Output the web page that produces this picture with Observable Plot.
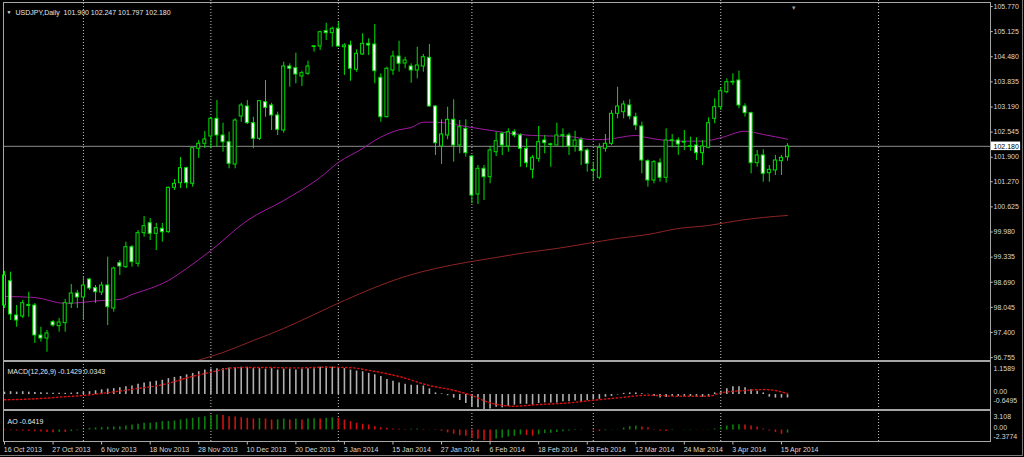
<!DOCTYPE html>
<html><head><meta charset="utf-8">
<script src="https://cdn.jsdelivr.net/npm/d3@7"></script>
<script src="https://cdn.jsdelivr.net/npm/@observablehq/plot@0.6"></script>
<style>
html,body{margin:0;padding:0;background:#000;}
#chart{position:relative;width:1024px;height:457px;background:#000;overflow:hidden;}
#chart svg{position:absolute;left:0;}
.box{position:absolute;border:1px solid #a6a6a6;box-sizing:border-box;pointer-events:none;}
</style></head><body><div id="chart"></div>
<script>
// ---------- data ----------
const symbol = "USDJPY";
const timeframe = "Daily";
const opens = [98.093,98.717,97.837,97.811,98.081,98.093,97.323,97.246,97.665,97.562,
97.639,98.145,98.402,98.299,98.761,98.538,98.427,98.607,98.016,99.179,
99.077,99.590,99.164,99.950,100.206,99.934,100.063,99.975,101.115,101.233,
101.619,101.218,102.117,102.245,102.432,102.887,102.458,102.286,101.713,102.946,
103.203,102.774,102.373,103.313,103.228,102.972,102.586,104.230,104.186,103.973,
104.042,104.730,104.743,105.136,105.084,105.197,104.725,104.769,104.145,104.538,
104.812,104.794,103.939,102.928,104.127,104.486,104.307,104.230,104.127,104.230,
104.453,103.203,102.176,102.458,102.861,102.201,102.630,101.919,100.943,101.603,
101.387,102.029,102.502,102.176,102.543,102.458,102.117,101.577,101.860,102.330,
102.214,102.201,102.445,102.458,102.176,102.348,102.073,101.547,101.372,102.117,
102.245,103.015,103.056,103.228,102.928,102.689,101.798,101.303,101.747,101.372,
102.317,102.330,102.273,102.163,102.201,102.004,102.142,102.887,103.185,103.570,
103.816,103.870,103.203,103.031,101.747,101.945,101.490,101.560,101.798,101.900];
const highs = [98.966,98.948,98.093,98.222,98.435,98.145,97.536,97.452,97.708,97.760,
98.248,98.633,98.479,98.820,98.787,98.607,98.692,99.334,99.077,99.249,
99.719,99.634,100.019,100.378,100.327,100.199,100.199,101.131,101.328,101.893,
101.644,102.142,102.330,102.561,102.928,103.357,102.774,102.543,102.887,103.287,
103.357,102.928,103.357,103.870,103.287,103.056,104.340,104.299,104.571,104.109,
104.366,104.769,105.136,105.341,105.239,105.367,104.812,104.879,104.658,105.069,
104.941,105.308,104.042,104.212,104.622,104.879,104.468,104.299,104.725,104.538,
104.794,103.228,102.861,103.185,103.375,102.843,102.861,101.945,101.688,101.688,
102.176,102.543,102.543,102.630,102.604,102.502,102.373,101.945,102.689,102.458,
102.260,102.774,102.630,102.517,102.568,102.399,102.117,101.773,102.245,102.484,
103.100,103.698,103.339,103.375,103.031,102.799,101.834,101.816,101.860,102.630,
102.484,102.399,102.586,102.414,102.399,102.330,102.912,103.400,103.683,103.914,
104.042,104.109,103.272,103.056,102.073,102.091,101.688,101.945,101.945,102.247];
const lows = [98.016,97.708,97.536,97.760,97.793,97.118,97.151,96.894,97.536,97.408,
97.408,98.016,98.016,97.708,98.479,98.145,98.350,97.580,97.921,98.864,
99.043,99.077,99.077,99.847,99.762,99.505,99.719,99.950,101.046,101.097,
101.090,101.131,101.868,102.124,102.117,102.158,102.029,101.603,101.603,102.799,
102.740,102.117,102.330,102.928,102.586,102.458,102.517,103.698,103.785,103.716,
104.000,104.597,104.640,104.897,104.725,104.725,104.000,103.852,104.083,104.512,
104.512,103.785,102.799,102.912,104.000,104.083,104.171,103.801,103.914,104.083,
103.185,101.945,101.713,102.348,101.773,101.988,101.901,100.705,100.687,100.789,
101.218,101.919,101.945,102.029,102.399,101.644,101.629,101.346,101.773,101.988,
101.644,102.201,102.142,101.945,102.029,101.688,101.516,101.285,101.321,102.029,
102.201,102.887,102.887,102.861,102.586,101.475,101.131,101.218,101.259,101.233,
102.142,101.945,102.073,102.055,101.816,101.688,102.117,102.758,103.100,103.529,
103.742,103.144,102.928,101.475,101.644,101.259,101.259,101.431,101.431,101.797];
const closes = [98.864,97.862,97.708,98.153,98.107,97.323,97.246,97.375,97.580,97.657,
98.153,98.402,98.299,98.607,98.530,98.435,98.607,98.050,99.043,99.095,
99.590,99.205,99.950,100.129,99.934,100.078,99.975,101.115,101.218,101.619,
101.233,102.132,102.245,102.355,102.887,102.458,102.286,101.731,102.843,103.228,
102.774,102.373,103.339,103.169,102.972,102.604,104.230,104.171,104.024,104.058,
104.230,104.748,105.110,105.084,105.197,104.743,104.769,104.171,104.556,104.812,
104.769,104.109,102.928,104.171,104.486,104.299,104.384,104.127,104.255,104.468,
103.203,102.260,102.484,102.861,102.201,102.671,102.004,100.917,101.603,101.387,
102.073,102.312,102.201,102.543,102.458,102.117,101.747,101.886,102.286,102.260,
102.235,102.458,102.466,102.176,102.330,102.055,101.731,101.572,102.142,102.245,
103.015,103.203,103.254,102.946,102.715,101.816,101.303,101.773,101.372,102.330,
102.337,102.227,102.294,102.183,102.004,102.176,102.774,103.185,103.595,103.827,
103.837,103.228,103.031,101.747,101.945,101.475,101.577,101.816,101.886,102.180];

// moving averages read at sample bars: [bar, value]
const maFast = [[0,98.325],[5,98.299],[10,98.145],[16,98.222],[19,98.248],[21,98.376],[24,98.530],[27,98.735],[30,99.043],[34,99.505],[40,100.276],[46,100.789],[52,101.380],[55,101.765],[59,102.124],[61,102.330],[65,102.604],[67,102.663],[69,102.799],[71,102.799],[76,102.689],[82,102.543],[87,102.458],[93,102.432],[97,102.348],[100,102.373],[101,102.399],[104,102.458],[106,102.399],[109,102.330],[112,102.312],[115,102.312],[118,102.399],[122,102.568],[125,102.484],[129,102.363]];
const maSlow = [[32,96.690],[36,96.887],[41,97.195],[46,97.503],[51,97.862],[56,98.222],[61,98.556],[66,98.838],[71,99.043],[76,99.197],[81,99.326],[86,99.454],[91,99.557],[96,99.685],[101,99.814],[106,99.916],[111,100.070],[116,100.147],[121,100.276],[125,100.353],[129,100.404]];

const priceTickLabels = ["105.770","105.125","104.480","103.835","103.190","102.545","101.900","101.270","100.625","99.980","99.335","98.690","98.045","97.400","96.755"];

const macdParams = [12,26,9];
const macdMain = [0.10,0.12,0.10,0.12,0.10,0.09,0.08,0.07,0.06,0.05,
0.05,0.06,0.08,0.10,0.12,0.16,0.20,0.23,0.25,0.29,
0.33,0.36,0.43,0.49,0.53,0.56,0.60,0.67,0.72,0.76,
0.83,0.89,0.96,1.03,1.07,1.09,1.09,1.12,1.12,1.15,
1.15,1.09,1.09,1.07,1.09,1.03,1.07,1.07,1.03,1.07,
1.09,1.09,1.15,1.1589,1.15,1.14,1.09,1.03,0.99,0.96,
0.89,0.83,0.76,0.63,0.56,0.49,0.43,0.39,0.39,0.36,
0.24,0.07,0.03,-0.05,-0.15,-0.25,-0.38,-0.53,-0.56,-0.6495,
-0.61,-0.53,-0.56,-0.50,-0.45,-0.41,-0.41,-0.45,-0.38,-0.35,
-0.35,-0.35,-0.30,-0.30,-0.27,-0.30,-0.26,-0.23,-0.20,-0.11,
-0.08,-0.02,0.05,0.07,0.07,0.03,0.01,-0.08,-0.15,-0.12,
-0.08,-0.08,-0.11,-0.08,-0.11,-0.11,-0.08,0.07,0.14,0.24,
0.33,0.33,0.29,0.21,0.14,0.07,-0.11,-0.15,-0.15,-0.1429];
const macdSignal = [[0,-0.22],[5,-0.18],[10,-0.09],[13,-0.04],[16,0.05],[21,0.22],[27,0.47],[30,0.70],[34,0.94],[38,1.13],[43,1.14],[48,1.12],[53,1.15],[57,1.13],[60,1.02],[65,0.76],[70,0.38],[74,0.18],[77,-0.04],[80,-0.35],[84,-0.49],[88,-0.42],[93,-0.35],[97,-0.24],[101,-0.14],[106,-0.03],[111,-0.07],[116,-0.07],[118,0.07],[122,0.17],[125,0.21],[127,0.17],[129,0.0343]];
const macdMax = 1.1589, macdMin = -0.6495;

const aoValues = [-0.10,-0.15,-0.20,-0.25,-0.30,-0.35,-0.40,-0.50,-0.55,-0.45,
-0.50,-0.30,-0.15,0.10,0.34,0.41,0.48,0.55,0.62,0.69,
0.82,1.03,1.17,1.37,1.40,1.51,1.72,1.75,1.86,2.06,
2.27,2.41,2.54,2.75,3.00,3.108,2.96,2.75,2.70,2.54,
2.41,2.27,2.35,2.27,2.06,2.10,2.27,2.06,2.27,2.06,
2.25,2.30,2.25,2.40,2.50,2.40,2.06,1.72,1.37,1.17,
1.03,0.69,0.48,0.34,0.20,0.15,0.10,0.15,0.20,0.10,
0.05,-0.10,-0.30,-0.60,-0.90,-1.20,-1.30,-1.70,-1.90,-2.20,
-2.3774,-1.85,-1.70,-1.45,-1.30,-1.05,-1.15,-1.30,-1.00,-0.75,
-0.70,-0.50,-0.35,-0.20,-0.10,0.05,0.00,-0.20,-0.30,-0.15,
-0.05,0.05,0.40,0.70,0.80,0.60,0.45,0.10,-0.20,-0.30,
-0.10,0.00,0.05,0.08,0.05,0.03,0.05,0.20,0.50,0.80,
1.05,1.10,1.00,0.80,0.60,0.20,-0.20,-0.50,-0.90,-0.6419];
const aoMax = 3.108, aoMin = -2.3774;

const monthStartBars = [13,34,55,77,97,118,144];
const dateLabels = ["16 Oct 2013","27 Oct 2013","6 Nov 2013","18 Nov 2013","28 Nov 2013","10 Dec 2013","20 Dec 2013","3 Jan 2014","15 Jan 2014","27 Jan 2014","6 Feb 2014","18 Feb 2014","28 Feb 2014","12 Mar 2014","24 Mar 2014","3 Apr 2014","15 Apr 2014"];
const dateLabelBars = [0,8,16,24,32,40,48,56,64,72,80,88,96,104,112,120,128];

// ---------- layout ----------
const FONT = "'Liberation Sans', Arial, sans-serif";
const xScale = {domain: [-0.165, 167.71], range: [3, 1022], axis: null};
const axisBar = 162.44;      // bar-index position of the price axis line
const shiftBar = 130;
const GREEN = "#00e000";
const TXT = "#d8d8d8";
const baseStyle = {background: "transparent", color: TXT, fontFamily: FONT, fontSize: "7px"};
const chart = document.getElementById("chart");
const fmt3 = v => v.toFixed(3);

const bars = opens.map((o, i) => ({i, open: o, high: highs[i], low: lows[i], close: closes[i]}));
const last = bars[bars.length - 1];

const mainPlot = Plot.plot({
  width: 1024, height: 361, margin: 0,
  x: xScale,
  y: {domain: [96.681, 105.924], range: [360, 0], axis: null},
  style: baseStyle,
  marks: [
    Plot.ruleX(monthStartBars, {x: d => d, stroke: "#c4c4c4", strokeDasharray: "1,2"}),
    Plot.ruleY([last.close], {x1: xScale.domain[0], x2: axisBar, stroke: "#8c8c8c"}),
    Plot.line(maSlow, {x: d => d[0], y: d => d[1], stroke: "#8e2424", strokeWidth: 1, curve: "monotone-x"}),
    Plot.line(maFast, {x: d => d[0], y: d => d[1], stroke: "#a21aa2", strokeWidth: 1, curve: "monotone-x"}),
    Plot.ruleX(bars, {x: "i", y1: "low", y2: "high", stroke: GREEN, strokeWidth: 1}),
    Plot.rect(bars, {filter: d => d.close >= d.open, x1: d => d.i - 0.25, x2: d => d.i + 0.25, y1: "open", y2: "close", fill: "#000", stroke: GREEN, strokeWidth: 1}),
    Plot.rect(bars, {filter: d => d.close < d.open, x1: d => d.i - 0.25, x2: d => d.i + 0.25, y1: "open", y2: "close", fill: "#ffffff", stroke: GREEN, strokeWidth: 1}),
    Plot.ruleY(priceTickLabels, {y: d => +d, x1: axisBar, x2: axisBar + 0.45, stroke: "#bdbdbd"}),
    Plot.text(priceTickLabels, {x: axisBar, y: d => +d, text: d => d, dx: 3, textAnchor: "start", fontSize: 7, fill: TXT}),
    Plot.rect([last.close], {x1: axisBar + 0.1, x2: 167.4, y1: d => d - 0.11, y2: d => d + 0.11, fill: "#ffffff"}),
    Plot.text([last.close], {x: axisBar, y: d => d, text: fmt3, dx: 3, textAnchor: "start", fontSize: 7, fill: "#000"}),
    Plot.text(["▼"], {frameAnchor: "top-left", dx: 8.5, dy: 9.5, textAnchor: "middle", fontSize: 5, fill: "#e0e0e0"}),
    Plot.text([`${symbol},${timeframe}  ${fmt3(last.open)} ${fmt3(last.high)} ${fmt3(last.low)} ${fmt3(last.close)}`],
      {frameAnchor: "top-left", dx: 15, dy: 9.5, textAnchor: "start", fontSize: 7, fill: "#e6e6e6"}),
    Plot.text(["▼"], {x: shiftBar, frameAnchor: "top", dy: 5, fontSize: 6, fill: "#9a9a9a"})
  ]
});
mainPlot.style.top = "0px";
chart.appendChild(mainPlot);

// MACD
const macdData = macdMain.map((v, i) => ({i, v}));
const macdPlot = Plot.plot({
  width: 1024, height: 49, margin: 0,
  x: xScale,
  y: {domain: [macdMin, macdMax], range: [48.5, 5.5], axis: null},
  style: baseStyle,
  marks: [
    Plot.ruleX(monthStartBars, {x: d => d, stroke: "#c4c4c4", strokeDasharray: "1,2"}),
    Plot.ruleX(macdData, {x: "i", y1: 0, y2: "v", stroke: "#b0b0b0", strokeWidth: 1.6}),
    Plot.line(macdSignal, {x: d => d[0], y: d => d[1], stroke: "#d81010", strokeWidth: 1.4, strokeDasharray: "1.5,2.5", curve: "monotone-x"}),
    Plot.text([`MACD(${macdParams.join(",")}) ${macdMain[macdMain.length - 1].toFixed(4)} ${macdSignal[macdSignal.length - 1][1].toFixed(4)}`],
      {frameAnchor: "top-left", dx: 7, dy: 8, textAnchor: "start", fontSize: 7, fill: "#e6e6e6"}),
    Plot.text([macdMax], {x: axisBar, y: d => d, text: d => d.toFixed(4), dx: 3, dy: 1.5, textAnchor: "start", fontSize: 7, fill: TXT}),
    Plot.text([0], {x: axisBar, y: d => d, text: d => d.toFixed(2), dx: 3, dy: -2.5, textAnchor: "start", fontSize: 7, fill: TXT}),
    Plot.text([macdMin], {x: axisBar, y: d => d, text: d => d.toFixed(4), dx: 3, dy: -9.5, textAnchor: "start", fontSize: 7, fill: TXT})
  ]
});
macdPlot.style.top = "361px";
chart.appendChild(macdPlot);

// AO
const aoData = aoValues.map((v, i) => ({i, v, up: i > 0 && v > aoValues[i - 1]}));
const aoPlot = Plot.plot({
  width: 1024, height: 32, margin: 0,
  x: xScale,
  y: {domain: [aoMin, aoMax], range: [31, 4.4], axis: null},
  style: baseStyle,
  marks: [
    Plot.ruleX(monthStartBars, {x: d => d, stroke: "#c4c4c4", strokeDasharray: "1,2"}),
    Plot.ruleX(aoData, {filter: d => d.up, x: "i", y1: 0, y2: "v", stroke: "#0c800c", strokeWidth: 1.6}),
    Plot.ruleX(aoData, {filter: d => !d.up, x: "i", y1: 0, y2: "v", stroke: "#d01010", strokeWidth: 1.6}),
    Plot.text([`AO ${aoValues[aoValues.length - 1].toFixed(4)}`],
      {frameAnchor: "top-left", dx: 7, dy: 9, textAnchor: "start", fontSize: 7, fill: "#e6e6e6"}),
    Plot.text([aoMax], {x: axisBar, y: d => d, text: d => d.toFixed(3), dx: 3, dy: 2, textAnchor: "start", fontSize: 7, fill: TXT}),
    Plot.text([0], {x: axisBar, y: d => d, text: d => d.toFixed(2), dx: 3, dy: -2, textAnchor: "start", fontSize: 7, fill: TXT}),
    Plot.text([aoMin], {x: axisBar, y: d => d, text: d => d.toFixed(4), dx: 3, dy: -5, textAnchor: "start", fontSize: 7, fill: TXT})
  ]
});
aoPlot.style.top = "410px";
chart.appendChild(aoPlot);

// Date axis
const datePlot = Plot.plot({
  width: 1024, height: 16, margin: 0,
  x: xScale,
  y: {domain: [0, 16], range: [0, 16], axis: null},
  style: baseStyle,
  marks: [
    Plot.ruleX(dateLabelBars, {x: d => d, y1: 0.5, y2: 3.5, stroke: "#bdbdbd"}),
    Plot.text(dateLabels, {x: (d, k) => dateLabelBars[k], y: 8, text: d => d, dx: -0.7, textAnchor: "start", fontSize: 7, fill: TXT})
  ]
});
datePlot.style.top = "441px";
chart.appendChild(datePlot);

// panel frames
function box(l, t, w, h, extra) {
  const d = document.createElement("div");
  d.className = "box";
  Object.assign(d.style, {left: l + "px", top: t + "px", width: w + "px", height: h + "px"}, extra || {});
  chart.appendChild(d);
}
box(3, 2, 988, 359);
box(3, 361, 988, 49);
box(3, 410, 988, 32);
box(0, 0, 1023, 456, {border: "none", borderRight: "1px solid #7a7a7a", borderBottom: "1px solid #7a7a7a"});
</script></body></html>
